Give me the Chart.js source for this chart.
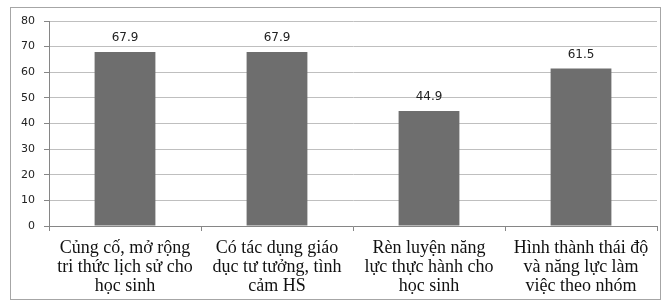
<!DOCTYPE html>
<html>
<head>
<meta charset="utf-8">
<script src="https://cdn.jsdelivr.net/npm/chart.js@4.4.0/dist/chart.umd.min.js"></script>
<style>
  html, body { margin: 0; padding: 0; background: #fff; }
  #wrap { width: 662px; height: 303px; position: relative; }
</style>
</head>
<body>
<div id="wrap"><canvas id="myChart" width="662" height="303"></canvas></div>
<script>
// chart data
const categories = [
  ["Củng cố, mở rộng", "tri thức lịch sử cho", "học sinh"],
  ["Có tác dụng giáo", "dục tư tưởng, tình", "cảm HS"],
  ["Rèn luyện năng", "lực thực hành cho", "học sinh"],
  ["Hình thành thái độ", "và năng lực làm", "việc theo nhóm"]
];
const values = [67.9, 67.9, 44.9, 61.5];
const yTicks = [0, 10, 20, 30, 40, 50, 60, 70, 80];

// outer frame + value labels above bars
const framePlugin = {
  id: "frame",
  afterDraw(chart) {
    const c = chart.ctx;
    c.save();
    c.strokeStyle = "#a6a6a6";
    c.lineWidth = 1;
    c.strokeRect(10.5, 7.5, 650, 292);
    c.restore();
  }
};

const valueLabels = {
  id: "valueLabels",
  afterDatasetsDraw(chart) {
    const c = chart.ctx;
    const meta = chart.getDatasetMeta(0);
    c.save();
    c.font = "12px 'DejaVu Sans'";
    c.fillStyle = "#222";
    c.textAlign = "center";
    c.textBaseline = "middle";
    meta.data.forEach((bar, i) => {
      c.fillText(values[i].toFixed(1), bar.x, bar.y - 14);
    });
    c.restore();
  }
};

var ctx = document.getElementById("myChart").getContext("2d");
var myChart = new Chart(ctx, {
  type: "bar",
  data: {
    labels: categories,
    datasets: [
      {
        label: "Tỉ lệ",
        backgroundColor: "#6e6e6e",
        borderColor: "#6e6e6e",
        data: values,
        barPercentage: 0.4,
        categoryPercentage: 1
      }
    ]
  },
  options: {
    responsive: false,
    animation: false,
    layout: { padding: { left: 11, top: 21, right: 5, bottom: 3 } },
    plugins: {
      legend: { display: false },
      tooltip: { enabled: false }
    },
    scales: {
      x: {
        grid: {
          drawOnChartArea: false,
          drawTicks: true,
          tickLength: 5,
          color: "#868686"
        },
        border: { color: "#868686" },
        ticks: {
          color: "#111",
          padding: 8,
          maxRotation: 0,
          autoSkip: false,
          font: { family: "'Liberation Serif'", size: 18, lineHeight: 1.04 }
        },
        afterFit(scale) { scale.height = 74; }
      },
      y: {
        min: 0,
        max: 80,
        afterBuildTicks(scale) { scale.ticks = yTicks.map(v => ({ value: v })); },
        grid: {
          color: "#bfbfbf",
          tickColor: "#868686",
          tickLength: 5
        },
        border: { color: "#868686" },
        ticks: {
          color: "#222",
          padding: 9,
          font: { family: "'DejaVu Sans'", size: 11 }
        },
        afterFit(scale) { scale.width = 38; }
      }
    }
  },
  plugins: [framePlugin, valueLabels]
});
</script>
</body>
</html>
